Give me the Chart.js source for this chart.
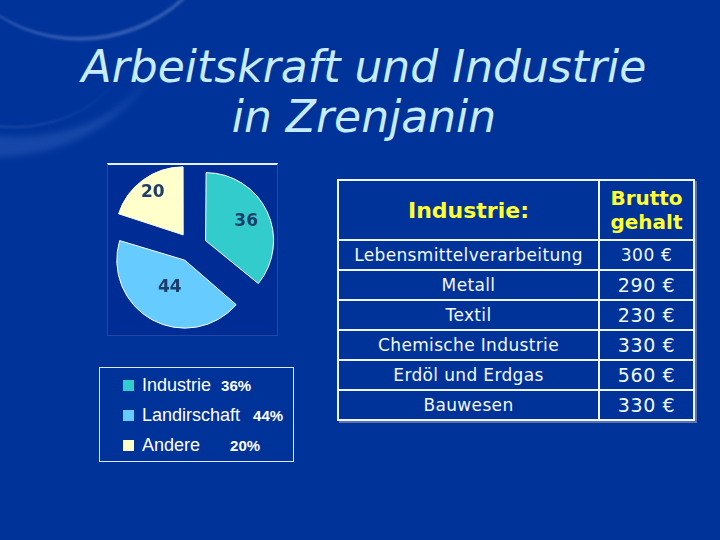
<!DOCTYPE html>
<html lang="de">
<head>
<meta charset="utf-8">
<title>Arbeitskraft und Industrie in Zrenjanin</title>
<script src="https://cdn.jsdelivr.net/npm/chart.js@4.4.1/dist/chart.umd.min.js"></script>
<style>
    html, body { margin: 0; padding: 0; }
    body {
        width: 720px;
        height: 540px;
        position: relative;
        overflow: hidden;
        background: #003399;
        font-family: "DejaVu Sans", Verdana, sans-serif;
    }
    .swoosh {
        position: absolute;
        border-radius: 50%;
        pointer-events: none;
    }
    #title {
        position: absolute;
        left: 4px;
        top: 42px;
        width: 720px;
        text-align: center;
        font-style: italic;
        font-size: 44px;
        line-height: 50px;
        color: #c8ecff;
    }
    #pieBox {
        position: absolute;
        left: 107px;
        top: 163px;
        width: 169px;
        height: 170px;
        background: #002c96;
        border: 1px solid rgba(60, 95, 180, 0.55);
        border-top: 2px solid #e4f2ff;
    }
    #pieWrap {
        position: absolute;
        left: 106px;
        top: 161px;
        width: 172px;
        height: 172px;
    }
    #legendBox {
        position: absolute;
        left: 99px;
        top: 367px;
        width: 193px;
        height: 93px;
        border: 1px solid #dfe8ff;
        font-family: "Liberation Sans", Arial, sans-serif;
        color: #ffffff;
    }
    .lg-row {
        position: absolute;
        left: 23px;
        height: 30px;
        display: flex;
        align-items: center;
        white-space: nowrap;
    }
    .lg-mark {
        width: 11px;
        height: 11px;
        margin-right: 8px;
    }
    .lg-label { font-size: 18px; }
    .lg-pct { font-size: 15px; font-weight: bold; }
    #salaryTable {
        position: absolute;
        left: 337px;
        top: 179px;
        width: 358px;
        border-collapse: collapse;
        border: 2px solid #f0f5ff;
        color: #f4f8ff;
        box-shadow: 2px 2px 0 rgba(150, 160, 190, 0.6);
    }
    #salaryTable td, #salaryTable th {
        border: 2px solid #f0f5ff;
        text-align: center;
        padding: 0;
    }
    #salaryTable th {
        color: #ffff33;
        font-weight: bold;
        height: 58px;
    }
    #salaryTable th.h1 { width: 259px; font-size: 22px; }
    #salaryTable th.h2 { font-size: 20px; line-height: 24px; }
    #salaryTable td { height: 28px; font-size: 17px; letter-spacing: 0.35px; }
    #salaryTable td.val { font-size: 19px; letter-spacing: 0.6px; }
    #salaryTable tr.first td.val { font-size: 17px; }
</style>
</head>
<body>

<div class="swoosh" style="left:-60px; top:-232px; width:290px; height:268px; border-bottom:4px solid rgba(190,210,255,0.26); transform:rotate(-16deg); filter:blur(1px);"></div>
<div class="swoosh" style="left:-215px; top:-200px; width:385px; height:330px; border-bottom:24px solid rgba(150,185,255,0.15); border-left:8px solid rgba(150,185,255,0.08); transform:rotate(22deg); filter:blur(3px);"></div>
<div class="swoosh" style="left:-130px; top:-110px; width:270px; height:235px; border-bottom:2px solid rgba(190,210,255,0.14); transform:rotate(14deg); filter:blur(1px);"></div>

<div id="title">Arbeitskraft und Industrie<br>in Zrenjanin</div>

<div id="pieBox"></div>
<div id="pieWrap"><canvas id="pieChart"></canvas></div>

<div id="legendBox"></div>

<table id="salaryTable">
    <thead>
        <tr>
            <th class="h1">Industrie:</th>
            <th class="h2">Brutto<br>gehalt</th>
        </tr>
    </thead>
    <tbody id="salaryBody"></tbody>
</table>

<script>
// Daten
const categories = ['Industrie', 'Landirschaft', 'Andere'];
const shares = [36, 44, 20];
const industries = [
    'Lebensmittelverarbeitung',
    'Metall',
    'Textil',
    'Chemische Industrie',
    'Erdöl und Erdgas',
    'Bauwesen'
];
const salaries = [300, 290, 230, 330, 560, 330];

// Styles
const sliceColors = ['#33cccc', '#66ccff', '#ffffcc'];
const labelRadius = [0.66, 0.46, 0.76];
const pctGap = [10, 13, 30];
const pieRadius = 68;
const explode = 60; // Chart.js verschiebt um offset / 4

document.addEventListener('DOMContentLoaded', function() {
    initTable();
    initLegend();
    initPie();
});

function initTable() {
    const tbody = document.getElementById('salaryBody');

    industries.forEach((name, i) => {
        const tr = document.createElement('tr');
        if (i === 0) tr.className = 'first';
        tr.innerHTML = `<td>${name}</td><td class="val">${salaries[i]} €</td>`;
        tbody.appendChild(tr);
    });
}

function initLegend() {
    const box = document.getElementById('legendBox');

    categories.forEach((name, i) => {
        const row = document.createElement('div');
        row.className = 'lg-row';
        row.style.top = (2 + i * 30) + 'px';
        row.innerHTML = `
            <span class="lg-mark" style="background:${sliceColors[i]}"></span>
            <span class="lg-label">${name}</span>
            <span class="lg-pct" style="margin-left:${pctGap[i]}px">${shares[i]}%</span>
        `;
        box.appendChild(row);
    });
}

// gleicher Radius fuer alle herausgezogenen Stuecke
const evenRadius = {
    id: 'evenRadius',
    beforeDatasetsDraw(chart) {
        const meta = chart.getDatasetMeta(0);
        meta.data.forEach(arc => {
            const shift = (arc.options.offset || 0) / 4;
            const fix = 1 - Math.sin(Math.min(Math.PI, arc.circumference || 0));
            arc.outerRadius = pieRadius - shift * fix;
        });
    }
};

const sliceLabels = {
    id: 'sliceLabels',
    afterDatasetsDraw(chart) {
        const ctx = chart.ctx;
        const meta = chart.getDatasetMeta(0);

        ctx.save();
        ctx.font = 'bold 17px "DejaVu Sans", Verdana, sans-serif';
        ctx.fillStyle = '#1d3d6b';
        ctx.textAlign = 'center';
        ctx.textBaseline = 'middle';

        meta.data.forEach((arc, i) => {
            const mid = (arc.startAngle + arc.endAngle) / 2;
            const shift = (arc.options.offset || 0) / 4;
            const r = shift + pieRadius * labelRadius[i];
            ctx.fillText(String(shares[i]), arc.x + Math.cos(mid) * r, arc.y + Math.sin(mid) * r);
        });

        ctx.restore();
    }
};

function initPie() {
    const canvas = document.getElementById('pieChart');
    if (!canvas || typeof Chart === 'undefined') return;

    new Chart(canvas.getContext('2d'), {
        type: 'pie',
        data: {
            labels: categories,
            datasets: [{
                data: shares,
                backgroundColor: sliceColors,
                borderColor: '#ffffff',
                borderWidth: 1,
                offset: explode,
                radius: pieRadius
            }]
        },
        options: {
            responsive: true,
            maintainAspectRatio: false,
            animation: false,
            events: [],
            layout: { padding: 0 },
            plugins: {
                legend: { display: false },
                tooltip: { enabled: false },
                title: { display: false }
            }
        },
        plugins: [evenRadius, sliceLabels]
    });
}
</script>
</body>
</html>
